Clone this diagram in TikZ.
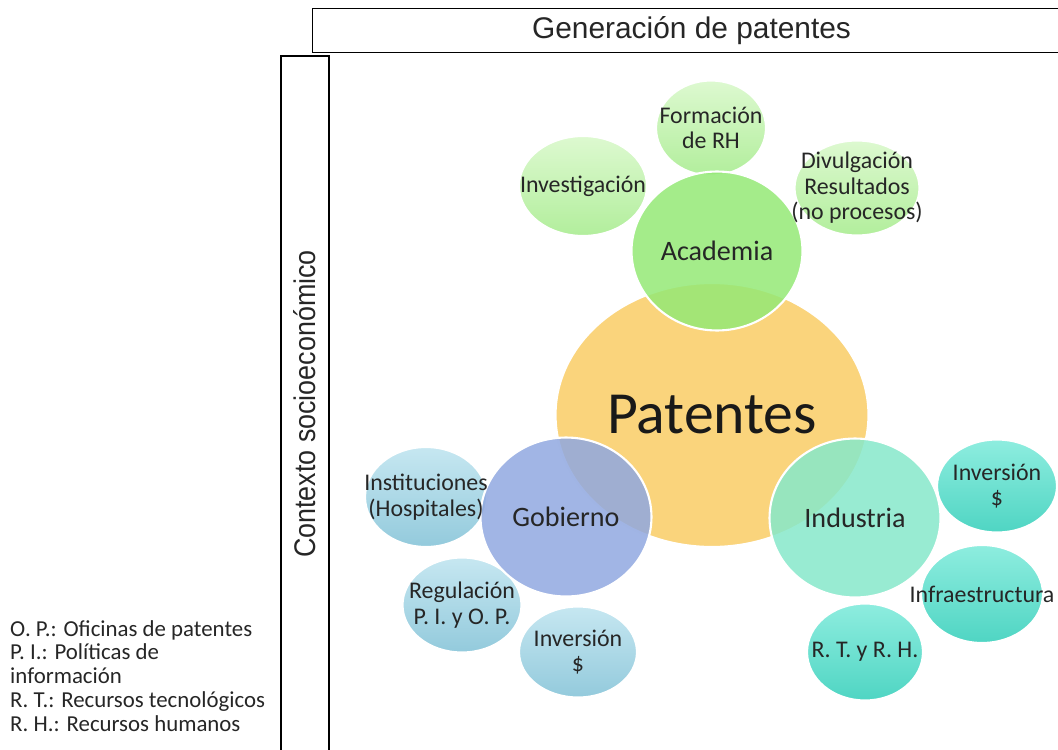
\documentclass[tikz,border=0pt]{standalone}
\usepackage{fontspec}
\setmainfont{Carlito}
\newfontfamily\arialfont{Liberation Sans}
\usetikzlibrary{shapes.geometric}

\definecolor{patY}{HTML}{FAD47C}
\definecolor{acaG}{HTML}{94E976}
\definecolor{acaTop}{HTML}{DDF9D0}
\definecolor{acaBot}{HTML}{B2EE9C}
\definecolor{gobB}{HTML}{90A8E0}
\definecolor{gobTop}{HTML}{C6E7F1}
\definecolor{gobBot}{HTML}{93CADC}
\definecolor{indT}{HTML}{86E8CA}
\definecolor{indTop}{HTML}{8EEDDF}
\definecolor{indBot}{HTML}{4FD5C3}

\begin{document}
\begin{tikzpicture}[x=0.02cm, y=-0.02cm,
		bub/.style={ellipse, draw=white, line width=1.2pt, inner sep=0pt},
		sma/.style={bub, minimum width=2.4cm, minimum height=1.9cm},
		mainbub/.style={bub, fill opacity=0.85, minimum width=3.42cm, minimum height=3.18cm},
		txt/.style={align=center, font=\fontsize{13.6}{14.5}\selectfont, text=black!85},
		maintxt/.style={font=\fontsize{16}{18}\selectfont, text=black!85}]
	
	\useasboundingbox (0,0) rectangle (1058,750);
	
	% frame
	\node[draw, line width=0.7pt, anchor=north west, minimum width=15.16cm, minimum height=0.88cm,
		font=\arialfont\fontsize{17}{19}\selectfont, text=black!85] (gen) at (312,8) {Generación de patentes};
	\node[draw, line width=0.7pt, rotate=90, minimum width=13.92cm, minimum height=0.96cm,
		font=\arialfont\fontsize{17}{19}\selectfont, text=black!85] (ctx) at (305,404) {\scalebox{0.9}[1]{Contexto socioeconómico}};
	
	% legend
	\node[anchor=west, align=left, font=\fontsize{13}{13.6}\selectfont, text=black!85] (ley) at (4,676)
		{O. P.: Oficinas de patentes\\P. I.: Políticas de\\información\\R. T.: Recursos tecnológicos\\R. H.: Recursos humanos};
	
	% academia
	\node[sma, top color=acaTop, bottom color=acaBot, minimum width=2.56cm, minimum height=2cm] (inv) at (583,186) {};
	\node[sma, top color=acaTop, bottom color=acaBot, minimum width=2.2cm] (for) at (711,128) {};
	\node[sma, top color=acaTop, bottom color=acaBot, minimum width=2.5cm] (div) at (857,188) {};
	
	% gobierno
	\node[sma, top color=gobTop, bottom color=gobBot, minimum width=2.44cm, minimum height=2cm] (ins) at (426,497) {};
	\node[sma, top color=gobTop, bottom color=gobBot, minimum width=2.38cm] (reg) at (462,605) {};
	\node[sma, top color=gobTop, bottom color=gobBot, minimum width=2.36cm, minimum height=1.82cm] (ingob) at (578,652) {};
	
	% industria
	\node[sma, top color=indTop, bottom color=indBot, minimum height=1.86cm] (inind) at (997,486) {};
	\node[sma, top color=indTop, bottom color=indBot, minimum width=2.44cm, minimum height=1.96cm] (inf) at (982,594) {};
	\node[sma, top color=indTop, bottom color=indBot, minimum width=2.32cm, minimum height=1.94cm] (rtrh) at (865,652) {};
	
	% centro
	\node[bub, fill=patY, minimum width=6.26cm, minimum height=5.28cm] (pat) at (712,415) {};
	\node[mainbub, fill=acaG] (aca) at (717,251) {};
	\node[mainbub, fill=gobB] (gob) at (566,517) {};
	\node[mainbub, fill=indT] (ind) at (855,518) {};
	
	% textos
	\node[txt] at (inv.center) {Investigación};
	\node[txt] at (for.center) {Formación\\de RH};
	\node[txt] at (div.center) {Divulgación\\Resultados\\(no procesos)};
	\node[txt] at (ins.center) {Instituciones\\(Hospitales)};
	\node[txt] at (reg.center) {Regulación\\P. I. y O. P.};
	\node[txt] at (ingob.center) {Inversión\\\$};
	\node[txt] at (inind.center) {Inversión\\\$};
	\node[txt] at (inf.center) {Infraestructura};
	\node[txt] at (rtrh.center) {R. T. y R. H.};
	\node[font=\fontsize{34}{36}\selectfont, text=black!90] at (pat.center) {Patentes};
	\node[maintxt] at (aca.center) {Academia};
	\node[maintxt] at (gob.center) {Gobierno};
	\node[maintxt] at (ind.center) {Industria};
\end{tikzpicture}
\end{document}
